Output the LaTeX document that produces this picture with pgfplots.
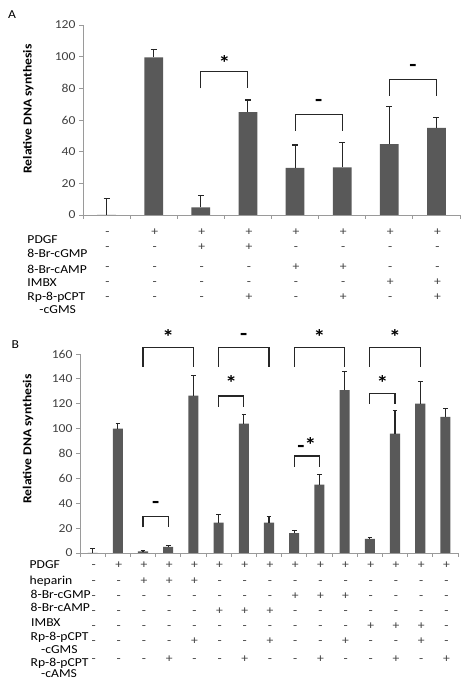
\documentclass[border=0pt]{standalone}
\usepackage{pgfplots}
\pgfplotsset{compat=1.18}
\usepackage{fontspec}
\setmainfont{Carlito}[FakeStretch=1.12]
\definecolor{barc}{HTML}{595959}
\definecolor{axc}{HTML}{9A9A9A}
\definecolor{tickc}{HTML}{404040}
\definecolor{errc}{HTML}{262626}
\newcommand\fs{\fontsize{12.2}{14}\selectfont}
\newcommand\sig{\fontsize{21}{21}\selectfont\bfseries}
\tikzset{brk/.style={draw=black!85, line width=1.1bp}}
\pgfplotsset{
  myaxis/.style={
    scale only axis,
    axis lines=left,
    axis line style={-, axc, line width=0.8bp},
    ymin=0,
    tick align=outside,
    major tick length=4bp,
    tick style={axc, line width=0.8bp},
    xticklabels={},
    yticklabel style={font=\fs, color=tickc},
    /pgf/number format/assume math mode=true,
    ylabel={Relative DNA synthesis},
    ylabel style={font=\fs\bfseries},
    ybar,
    clip=false,
  },
  mybars/.style={
    fill=barc, draw=none,
    error bars/y dir=plus, error bars/y explicit,
    error bars/error bar style={errc, line width=1.1bp},
    error bars/error mark options={errc, rotate=90, mark size=#1, line width=1.1bp},
  },
}
\pgfplotstableread{
x y e
1 0 10.5
2 99.6 4.8
3 4.8 7.4
4 65 7.6
5 29.7 14.5
6 30.1 15.6
7 44.8 24
8 55 6.7
}\dataA
\pgfplotstableread{
x y e
1 0 3.5
2 100 4.3
3 1.3 0.4
4 5 1
5 126.5 16.5
6 24.5 6.7
7 104 7
8 24.5 4.5
9 16 2.2
10 55 8
11 131 15
12 11.3 1.5
13 96 18.5
14 120 18
15 109.5 6.5
}\dataB
\begin{document}
\begin{tikzpicture}[x=1bp,y=1bp]
\useasboundingbox (0,0) rectangle (468,688);
\node[anchor=base west, font=\fs, inner sep=0] at (8,669.5) {A};
\node[anchor=base west, font=\fs, inner sep=0] at (11.5,339.5) {B};
% ---------------- Panel A
\begin{axis}[myaxis,
  at={(83bp,473bp)}, anchor=south west,
  width=377bp, height=190bp,
  xmin=0.5, xmax=8.5, ymax=120,
  xtick={0.5,1.5,...,8.5},
  ytick={0,20,...,120},
  bar width=0.4,
  ylabel style={at={(axis description cs:-0.122,0.558)}},
]
\addplot[mybars=3bp] table[x=x, y=y, y error=e] {\dataA};
\draw[brk] (axis cs:3,80) |- (axis cs:4,90.7) -- (axis cs:4,80);
\draw[brk] (axis cs:5,53.3) |- (axis cs:6,63.4) -- (axis cs:6,53.3);
\draw[brk] (axis cs:7,75.2) |- (axis cs:8,85.7) -- (axis cs:8,75.2);
\node[font=\sig] at (axis cs:3.5,95.8) {*};
\node[font=\sig] at (axis cs:5.5,70.5) {-};
\node[font=\sig] at (axis cs:7.5,92.6) {-};
\pgfplotsinvokeforeach{1,...,8}{\coordinate (A#1) at (axis cs:#1,0);}
\end{axis}
% ---------------- Panel B
\begin{axis}[myaxis,
  at={(80bp,135bp)}, anchor=south west,
  width=378bp, height=199bp,
  xmin=0.5, xmax=15.5, ymax=160,
  xtick={0.5,1.5,...,15.5},
  ytick={0,20,...,160},
  bar width=0.4,
  ylabel style={at={(axis description cs:-0.114,0.573)}},
]
\addplot[mybars=2.3bp] table[x=x, y=y, y error=e] {\dataB};
\draw[brk] (axis cs:3,149.8) |- (axis cs:5,165) -- (axis cs:5,149.8);
\draw[brk] (axis cs:6,149.8) |- (axis cs:8,165) -- (axis cs:8,149.8);
\draw[brk] (axis cs:9,149.8) |- (axis cs:11,165) -- (axis cs:11,149.8);
\draw[brk] (axis cs:12,149.8) |- (axis cs:14,165) -- (axis cs:14,149.8);
\draw[brk] (axis cs:6,117.6) |- (axis cs:7,126.2) -- (axis cs:7,117.6);
\draw[brk] (axis cs:3,20.6) |- (axis cs:4,29.2) -- (axis cs:4,20.6);
\draw[brk] (axis cs:9,69.4) |- (axis cs:10,78) -- (axis cs:10,69.4);
\draw[brk] (axis cs:12,119.8) |- (axis cs:13,128.4) -- (axis cs:13,119.8);
\node[font=\sig] at (axis cs:4,174) {*};
\node[font=\sig] at (axis cs:7,174) {-};
\node[font=\sig] at (axis cs:10,174) {*};
\node[font=\sig] at (axis cs:13,174) {*};
\node[font=\sig] at (axis cs:6.5,136.4) {*};
\node[font=\sig] at (axis cs:3.5,38.6) {-};
\node[font=\sig] at (axis cs:9.5,86.8) {-*};
\node[font=\sig] at (axis cs:12.5,136.4) {*};
\pgfplotsinvokeforeach{1,...,15}{\coordinate (B#1) at (axis cs:#1,0);}
\end{axis}
% ---------------- sign tables
\tikzset{sgn/.style={font=\fs, text=tickc, inner sep=0, anchor=base, xshift=1bp},
         lab/.style={font=\fs, inner sep=0, anchor=base west}}
\newcommand\rowA[2]{\foreach \s [count=\i] in {#2} \node[sgn] at (A\i |- 0,#1) {\s};}
\newcommand\rowB[2]{\foreach \s [count=\i] in {#2} \node[sgn] at (B\i |- 0,#1) {\s};}
\rowA{452}{-,+,+,+,+,+,+,+}
\rowA{437}{-,-,+,+,-,-,-,-}
\rowA{417}{-,-,-,-,+,+,-,-}
\rowA{402}{-,-,-,-,-,-,+,+}
\rowA{387.5}{-,-,-,+,-,+,-,+}
\node[lab] at (27.3,444.7) {PDGF};
\node[lab] at (27.3,430.7) {8-Br-cGMP};
\node[lab] at (27.3,414.7) {8-Br-cAMP};
\node[lab] at (27.3,401.3) {IMBX};
\node[lab] at (27.3,387) {Rp-8-pCPT};
\node[lab] at (39.3,374) {-cGMS};
\rowB{119.1}{-,+,+,+,+,+,+,+,+,+,+,+,+,+,+}
\rowB{103.8}{-,-,+,+,+,-,-,-,-,-,-,-,-,-,-}
\rowB{88.8}{-,-,-,-,-,-,-,-,+,+,+,-,-,-,-}
\rowB{73.8}{-,-,-,-,-,+,+,+,-,-,-,-,-,-,-}
\rowB{58.1}{-,-,-,-,-,-,-,-,-,-,-,+,+,+,-}
\rowB{43.1}{-,-,-,-,+,-,-,+,-,-,+,-,-,+,-}
\rowB{25.5}{-,-,-,+,-,-,+,-,-,+,-,-,+,-,+}
\node[lab] at (29.5,119) {PDGF};
\node[lab] at (29.5,103.7) {heparin};
\node[lab] at (30.5,89) {8-Br-cGMP};
\node[lab] at (30.5,76.3) {8-Br-cAMP};
\node[lab] at (31,61.3) {IMBX};
\node[lab] at (30.5,47) {Rp-8-pCPT};
\node[lab] at (41,34) {-cGMS};
\node[lab] at (30.5,21.3) {Rp-8-pCPT};
\node[lab] at (41,10) {-cAMS};
\end{tikzpicture}
\end{document}
